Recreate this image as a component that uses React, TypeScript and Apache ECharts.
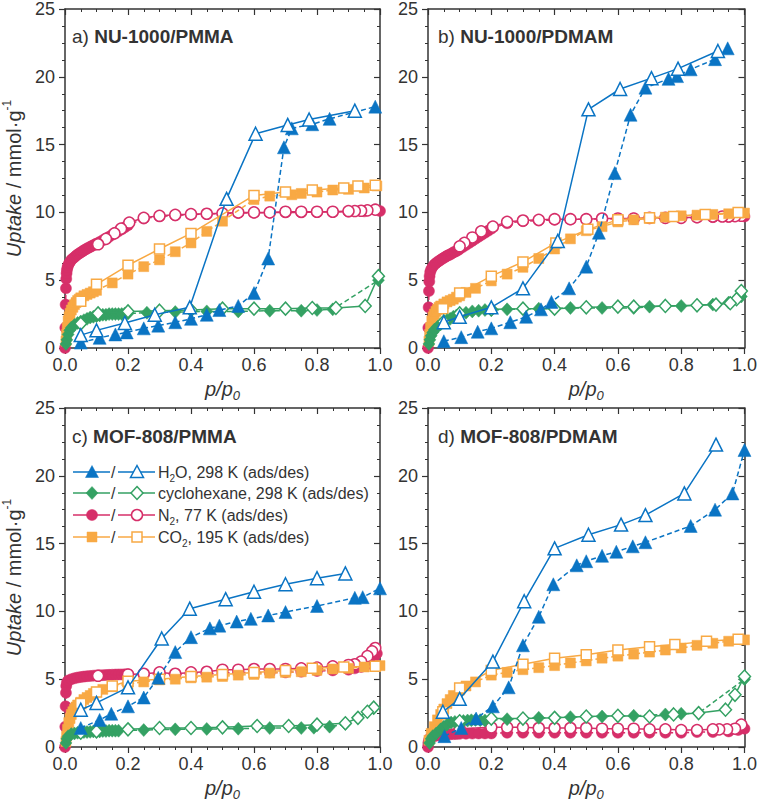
import React, { useEffect, useRef } from "react";
import * as echarts from "echarts";

// ---------- data (p/p0, uptake mmol/g) ----------
// Panel a) NU-1000/PMMA
const aH2OAds = [[0.05,0.4],[0.11,0.75],[0.16,1.0],[0.196,1.15],[0.25,1.45],[0.296,1.65],[0.35,1.9],[0.40,2.15],[0.45,2.45],[0.49,2.8],[0.55,3.1],[0.60,4.05],[0.645,6.6],[0.695,14.8],[0.72,16.2],[0.785,16.5],[0.84,16.9],[0.985,17.8]];
const aH2ODes = [[0.92,17.5],[0.775,16.85],[0.707,16.45],[0.605,15.8],[0.513,11.0],[0.396,3.0],[0.285,2.45],[0.19,1.85],[0.10,1.3],[0.05,0.95]];
const aCyAds = [[0.003,0.3],[0.006,0.6],[0.01,1.0],[0.015,1.3],[0.02,1.5],[0.03,1.7],[0.04,1.85],[0.05,1.95],[0.06,2.05],[0.07,2.15],[0.08,2.25],[0.09,2.3],[0.1,2.35],[0.11,2.4],[0.12,2.45],[0.13,2.45],[0.14,2.5],[0.15,2.5],[0.16,2.5],[0.17,2.5],[0.18,2.5],[0.19,2.55],[0.2,2.55],[0.26,2.6],[0.35,2.65],[0.45,2.7],[0.55,2.7],[0.65,2.75],[0.75,2.75],[0.8,2.8],[0.85,2.85],[0.995,5.0]];
const aCyDes = [[0.995,5.3],[0.953,3.1],[0.86,2.95],[0.785,2.95],[0.70,2.9],[0.60,2.9],[0.50,2.9],[0.40,2.8],[0.30,2.75],[0.20,2.7],[0.105,2.55],[0.05,1.8]];
const aN2Ads = [[0,0],[0.001,1.5],[0.002,3.2],[0.003,4.4],[0.004,5.1],[0.005,5.5],[0.006,5.75],[0.008,5.95],[0.01,6.1],[0.013,6.25],[0.016,6.35],[0.02,6.5],[0.025,6.6],[0.03,6.7],[0.035,6.8],[0.04,6.9],[0.045,6.97],[0.05,7.05],[0.055,7.12],[0.06,7.2],[0.065,7.27],[0.07,7.33],[0.075,7.4],[0.08,7.45],[0.085,7.52],[0.09,7.58],[0.095,7.63],[0.1,7.7],[0.11,7.82],[0.12,7.95],[0.13,8.07],[0.14,8.2],[0.15,8.35],[0.16,8.5],[0.17,8.62],[0.18,8.75],[0.19,8.9],[0.2,9.05],[0.25,9.55],[0.3,9.7],[0.35,9.78],[0.4,9.83],[0.45,9.88],[0.5,9.9],[0.55,9.95],[0.6,9.97],[0.65,9.98],[0.7,10.0],[0.75,10.0],[0.8,10.02],[0.85,10.03],[0.9,10.05],[0.95,10.08],[1.0,10.1]];
const aN2Des = [[0.985,10.2],[0.96,10.15],[0.94,10.12],[0.92,10.1],[0.90,10.1],[0.85,10.05],[0.80,10.05],[0.75,10.05],[0.70,10.05],[0.65,10.0],[0.60,10.0],[0.55,10.0],[0.50,9.93],[0.45,9.9],[0.40,9.87],[0.35,9.82],[0.30,9.75],[0.25,9.6],[0.204,9.25],[0.178,8.8],[0.157,8.45],[0.13,8.05],[0.105,7.65]];
const aCO2Ads = [[0.003,0.5],[0.005,1.0],[0.007,1.5],[0.01,2.0],[0.013,2.3],[0.016,2.55],[0.02,2.8],[0.025,3.0],[0.03,3.2],[0.035,3.35],[0.04,3.5],[0.045,3.6],[0.05,3.7],[0.06,3.85],[0.07,3.95],[0.08,4.05],[0.09,4.15],[0.1,4.25],[0.15,4.8],[0.2,5.45],[0.25,6.0],[0.3,6.5],[0.35,7.1],[0.4,7.75],[0.45,8.6],[0.5,9.35],[0.6,10.95],[0.65,11.2],[0.72,11.3],[0.75,11.4],[0.8,11.5],[0.85,11.65],[0.9,11.7],[0.95,11.8],[0.99,11.95]];
const aCO2Des = [[0.985,12.0],[0.93,11.95],[0.885,11.8],[0.785,11.65],[0.70,11.5],[0.60,11.25],[0.40,8.45],[0.30,7.3],[0.20,6.1],[0.10,4.7],[0.05,3.45]];

// Panel b) NU-1000/PDMAM
const bH2OAds = [[0.05,0.5],[0.105,0.8],[0.157,1.2],[0.2,1.45],[0.26,1.9],[0.31,2.3],[0.357,2.85],[0.39,3.4],[0.446,4.4],[0.50,6.0],[0.54,8.5],[0.59,12.9],[0.64,17.2],[0.687,19.2],[0.76,19.85],[0.787,20.05],[0.83,20.55],[0.907,21.3],[0.947,22.1]];
const bH2ODes = [[0.916,21.9],[0.79,20.6],[0.706,19.9],[0.607,19.1],[0.507,17.6],[0.41,7.9],[0.30,4.4],[0.2,3.0],[0.10,2.3],[0.05,1.9]];
const bCyAds = [[0.003,0.3],[0.006,0.6],[0.01,0.9],[0.015,1.15],[0.02,1.35],[0.03,1.55],[0.04,1.75],[0.05,1.9],[0.06,2.05],[0.07,2.15],[0.08,2.3],[0.09,2.4],[0.1,2.5],[0.12,2.6],[0.14,2.7],[0.16,2.75],[0.18,2.8],[0.2,2.8],[0.25,2.85],[0.35,2.9],[0.45,2.95],[0.55,2.95],[0.65,2.95],[0.7,3.05],[0.75,3.1],[0.8,3.1],[0.85,3.15],[0.9,3.2],[0.95,3.35],[0.99,3.8]];
const bCyDes = [[0.99,4.2],[0.975,3.6],[0.955,3.3],[0.91,3.2],[0.85,3.15],[0.75,3.1],[0.65,3.05],[0.60,3.05],[0.50,3.0],[0.40,2.9],[0.30,2.9],[0.20,2.85],[0.10,2.55],[0.05,1.95]];
const bN2Ads = [[0,0],[0.001,1.5],[0.002,3.0],[0.003,4.2],[0.004,4.9],[0.005,5.3],[0.007,5.6],[0.01,5.8],[0.015,6.0],[0.02,6.15],[0.025,6.25],[0.03,6.35],[0.035,6.42],[0.04,6.5],[0.045,6.58],[0.05,6.65],[0.055,6.72],[0.06,6.8],[0.065,6.85],[0.07,6.9],[0.075,6.97],[0.08,7.05],[0.085,7.1],[0.09,7.15],[0.095,7.22],[0.1,7.3],[0.11,7.45],[0.12,7.6],[0.13,7.75],[0.14,7.9],[0.15,8.05],[0.16,8.2],[0.17,8.35],[0.18,8.5],[0.19,8.65],[0.2,8.8],[0.25,9.2],[0.3,9.35],[0.35,9.4],[0.4,9.45],[0.45,9.48],[0.5,9.5],[0.55,9.52],[0.6,9.53],[0.65,9.55],[0.7,9.57],[0.75,9.58],[0.8,9.6],[0.85,9.62],[0.9,9.65],[0.95,9.68],[1.0,9.7]];
const bN2Des = [[0.99,9.75],[0.97,9.72],[0.95,9.7],[0.93,9.7],[0.90,9.7],[0.85,9.65],[0.80,9.6],[0.75,9.6],[0.70,9.6],[0.65,9.55],[0.60,9.55],[0.55,9.55],[0.50,9.5],[0.45,9.5],[0.40,9.5],[0.35,9.45],[0.30,9.4],[0.25,9.3],[0.205,8.95],[0.168,8.6],[0.14,8.15],[0.115,7.75],[0.10,7.5]];
const bCO2Ads = [[0.003,0.5],[0.005,1.0],[0.008,1.5],[0.012,2.0],[0.016,2.3],[0.02,2.5],[0.025,2.7],[0.03,2.85],[0.035,3.0],[0.04,3.1],[0.05,3.25],[0.06,3.4],[0.07,3.5],[0.08,3.6],[0.09,3.75],[0.1,3.85],[0.12,4.1],[0.15,4.4],[0.2,4.95],[0.25,5.45],[0.3,5.95],[0.35,6.6],[0.4,7.3],[0.45,8.05],[0.5,8.65],[0.55,8.95],[0.6,9.3],[0.65,9.45],[0.7,9.55],[0.75,9.65],[0.8,9.75],[0.85,9.8],[0.9,9.85],[0.95,9.9],[1.0,9.95]];
const bCO2Des = [[0.98,10.0],[0.876,9.85],[0.776,9.7],[0.70,9.6],[0.60,9.45],[0.505,8.75],[0.404,7.75],[0.30,6.35],[0.2,5.3],[0.1,4.05],[0.047,2.9]];

// Panel c) MOF-808/PMMA
const cH2OAds = [[0.05,1.4],[0.11,2.0],[0.147,2.45],[0.2,3.0],[0.25,3.65],[0.296,5.1],[0.35,7.0],[0.40,8.1],[0.46,8.75],[0.49,8.95],[0.545,9.25],[0.59,9.45],[0.645,9.7],[0.70,9.95],[0.80,10.4],[0.92,11.0],[0.945,11.05],[1.0,11.7]];
const cH2ODes = [[0.89,12.8],[0.80,12.45],[0.70,12.0],[0.60,11.45],[0.51,10.9],[0.396,10.2],[0.307,8.0],[0.2,4.4],[0.10,3.25],[0.05,2.75]];
const cCyAds = [[0.003,0.3],[0.006,0.6],[0.01,0.8],[0.02,0.95],[0.03,1.0],[0.04,1.05],[0.05,1.05],[0.06,1.1],[0.07,1.1],[0.08,1.12],[0.09,1.15],[0.1,1.15],[0.11,1.15],[0.12,1.18],[0.13,1.18],[0.14,1.2],[0.15,1.2],[0.16,1.2],[0.17,1.2],[0.25,1.25],[0.35,1.3],[0.45,1.33],[0.55,1.35],[0.65,1.4],[0.75,1.4],[0.79,1.42],[0.84,1.5],[0.89,1.7]];
const cCyDes = [[0.98,2.9],[0.96,2.6],[0.93,2.15],[0.89,1.75],[0.80,1.65],[0.71,1.55],[0.61,1.55],[0.50,1.45],[0.40,1.4],[0.30,1.4],[0.20,1.3],[0.10,1.15],[0.05,1.05]];
const cN2Ads = [[0,0],[0.001,1.5],[0.002,3.0],[0.003,4.0],[0.004,4.5],[0.006,4.75],[0.01,4.9],[0.02,5.0],[0.03,5.07],[0.04,5.12],[0.05,5.16],[0.06,5.19],[0.07,5.22],[0.08,5.24],[0.09,5.26],[0.1,5.28],[0.11,5.29],[0.12,5.3],[0.13,5.31],[0.14,5.32],[0.15,5.33],[0.16,5.34],[0.17,5.35],[0.18,5.35],[0.19,5.36],[0.2,5.36],[0.25,5.35],[0.3,5.4],[0.35,5.35],[0.4,5.4],[0.45,5.4],[0.5,5.45],[0.55,5.5],[0.6,5.5],[0.65,5.5],[0.7,5.5],[0.75,5.55],[0.8,5.6],[0.85,5.65],[0.9,5.7],[0.92,5.8],[0.94,5.9],[0.96,6.1],[0.98,6.5],[0.99,6.9]];
const cN2Des = [[0.985,7.3],[0.975,7.05],[0.96,6.7],[0.94,6.3],[0.92,6.1],[0.90,6.05],[0.85,5.95],[0.80,5.85],[0.75,5.8],[0.70,5.75],[0.65,5.75],[0.60,5.75],[0.55,5.7],[0.50,5.7],[0.45,5.55],[0.40,5.5],[0.35,5.4],[0.30,5.5],[0.25,5.4],[0.2,5.35],[0.105,5.25]];
const cCO2Ads = [[0.003,0.4],[0.005,0.8],[0.008,1.3],[0.012,1.8],[0.016,2.1],[0.02,2.4],[0.025,2.6],[0.03,2.8],[0.035,2.95],[0.04,3.1],[0.05,3.3],[0.06,3.5],[0.07,3.65],[0.08,3.8],[0.09,3.95],[0.1,4.05],[0.12,4.25],[0.15,4.45],[0.2,4.65],[0.25,4.8],[0.3,4.95],[0.35,5.0],[0.4,5.1],[0.45,5.15],[0.5,5.2],[0.55,5.3],[0.6,5.35],[0.65,5.45],[0.7,5.5],[0.75,5.55],[0.8,5.65],[0.85,5.75],[0.9,5.8],[0.95,5.9],[1.0,6.0]];
const cCO2Des = [[0.985,5.95],[0.885,5.9],[0.785,5.8],[0.70,5.65],[0.60,5.5],[0.50,5.35],[0.40,5.2],[0.30,5.0],[0.20,4.85],[0.15,4.5],[0.10,4.05],[0.05,3.2]];

// Panel d) MOF-808/PDMAM
const dH2OAds = [[0.052,0.8],[0.105,1.4],[0.152,2.1],[0.205,3.0],[0.255,4.4],[0.30,7.5],[0.35,9.6],[0.396,12.0],[0.47,13.4],[0.50,13.7],[0.55,14.1],[0.595,14.4],[0.647,14.8],[0.687,15.1],[0.83,16.3],[0.907,17.5],[0.962,18.7],[1.0,21.9]];
const dH2ODes = [[0.91,22.3],[0.81,18.7],[0.687,17.1],[0.61,16.4],[0.507,15.65],[0.40,14.65],[0.304,10.75],[0.205,6.3],[0.10,3.55],[0.047,2.6]];
const dCyAds = [[0.005,0.3],[0.01,0.6],[0.015,0.8],[0.026,1.0],[0.04,1.3],[0.05,1.5],[0.06,1.65],[0.073,1.8],[0.085,1.85],[0.1,1.9],[0.112,1.92],[0.125,1.95],[0.137,1.97],[0.15,2.0],[0.165,1.98],[0.18,1.95],[0.25,2.05],[0.35,2.15],[0.45,2.2],[0.55,2.25],[0.65,2.3],[0.75,2.4],[0.80,2.45],[0.855,2.5],[1.0,5.0]];
const dCyDes = [[1.0,5.2],[0.97,3.85],[0.94,2.75],[0.855,2.5],[0.776,2.4],[0.70,2.25],[0.60,2.3],[0.50,2.25],[0.40,2.15],[0.30,2.1],[0.20,2.1],[0.10,1.9]];
const dN2Ads = [[0,0],[0.001,0.3],[0.003,0.5],[0.006,0.65],[0.01,0.72],[0.02,0.8],[0.03,0.85],[0.04,0.88],[0.05,0.9],[0.06,0.92],[0.07,0.94],[0.08,0.95],[0.09,0.96],[0.1,0.97],[0.12,0.98],[0.14,0.99],[0.16,1.0],[0.18,1.0],[0.2,1.0],[0.25,1.05],[0.3,1.05],[0.35,1.05],[0.4,1.05],[0.45,1.05],[0.5,1.05],[0.55,1.05],[0.6,1.05],[0.65,1.05],[0.7,1.05],[0.75,1.05],[0.8,1.05],[0.85,1.1],[0.9,1.1],[0.95,1.15],[0.98,1.25],[1.0,1.35]];
const dN2Des = [[0.99,1.65],[0.97,1.35],[0.945,1.3],[0.92,1.3],[0.90,1.3],[0.85,1.25],[0.80,1.25],[0.75,1.3],[0.70,1.3],[0.65,1.35],[0.60,1.35],[0.55,1.35],[0.50,1.4],[0.45,1.4],[0.40,1.4],[0.35,1.4],[0.30,1.45],[0.25,1.45],[0.20,1.45],[0.10,1.35]];
const dCO2Ads = [[0.003,0.5],[0.01,1.0],[0.02,1.5],[0.03,2.0],[0.04,2.4],[0.05,2.8],[0.06,3.2],[0.07,3.5],[0.08,3.8],[0.1,4.2],[0.12,4.5],[0.15,4.8],[0.2,5.3],[0.25,5.5],[0.3,5.7],[0.35,5.85],[0.4,6.0],[0.45,6.2],[0.5,6.35],[0.55,6.55],[0.6,6.7],[0.65,6.85],[0.7,7.0],[0.75,7.15],[0.8,7.3],[0.85,7.5],[0.9,7.65],[0.95,7.8],[1.0,7.9]];
const dCO2Des = [[0.98,7.95],[0.88,7.8],[0.78,7.55],[0.70,7.4],[0.60,7.15],[0.50,6.8],[0.40,6.55],[0.30,6.1],[0.20,5.65],[0.10,4.35],[0.047,2.6]];

const panelLetters = ["a)", "b)", "c)", "d)"];
const panelNames = ["NU-1000/PMMA", "NU-1000/PDMAM", "MOF-808/PMMA", "MOF-808/PDMAM"];
const xTicks = [0, 0.2, 0.4, 0.6, 0.8, 1.0];
const yTicks = [0, 5, 10, 15, 20, 25];
const legendLabels = [
  "{n|H}{s|2}{n|O, 298 K (ads/des)}",
  "{n|cyclohexane, 298 K (ads/des)}",
  "{n|N}{s|2}{n|, 77 K (ads/des)}",
  "{n|CO}{s|2}{n|, 195 K (ads/des)}",
];

const panels = [
  { h2o: [aH2OAds, aH2ODes], cy: [aCyAds, aCyDes], n2: [aN2Ads, aN2Des], co2: [aCO2Ads, aCO2Des] },
  { h2o: [bH2OAds, bH2ODes], cy: [bCyAds, bCyDes], n2: [bN2Ads, bN2Des], co2: [bCO2Ads, bCO2Des] },
  { h2o: [cH2OAds, cH2ODes], cy: [cCyAds, cCyDes], n2: [cN2Ads, cN2Des], co2: [cCO2Ads, cCO2Des] },
  { h2o: [dH2OAds, dH2ODes], cy: [dCyAds, dCyDes], n2: [dN2Ads, dN2Des], co2: [dCO2Ads, dCO2Des] },
];

// ---------- styling ----------
const FONT = '"Liberation Sans", Arial, Helvetica, sans-serif';
const TXT = "#333333";
const BLUE = "#0a74c4";
const GREEN = "#34a163";
const PINK = "#d62f69";
const ORANGE = "#f8a944";

const gridRects = [
  { left: 62, top: 8, width: 318, height: 340 },
  { left: 428, top: 8, width: 318, height: 340 },
  { left: 62, top: 408, width: 318, height: 339 },
  { left: 428, top: 408, width: 318, height: 339 },
];

const kinds = [
  { key: "n2", color: PINK, symbol: "circle", size: 11 },
  { key: "co2", color: ORANGE, symbol: "rect", size: 10 },
  { key: "cy", color: GREEN, symbol: "diamond", size: [12, 13] },
  { key: "h2o", color: BLUE, symbol: "triangle", size: 13 },
];

function makeSeries(data: number[][], gi: number, k: any, filled: boolean, z: number) {
  return {
    type: "line",
    xAxisIndex: gi,
    yAxisIndex: gi,
    data,
    symbol: k.symbol,
    symbolSize: k.size,
    showSymbol: true,
    showAllSymbol: true,
    silent: true,
    z,
    lineStyle: { color: k.color, width: 1.5, type: filled ? [5, 3] : "solid" },
    itemStyle: {
      color: filled ? k.color : "#ffffff",
      borderColor: k.color,
      borderWidth: filled ? 0.5 : 1.5,
      opacity: 1,
    },
  };
}

const axisLineStyle = { color: TXT, width: 1.5 };

function buildOption() {
  const xAxis: any[] = [];
  const yAxis: any[] = [];
  const grid = gridRects.map((g) => ({ ...g, containLabel: false, show: false }));
  for (let i = 0; i < 4; i++) {
    xAxis.push({
      type: "value",
      gridIndex: i,
      min: xTicks[0],
      max: xTicks[xTicks.length - 1],
      interval: 0.2,
      position: "bottom",
      axisLine: { show: true, onZero: false, lineStyle: axisLineStyle },
      axisTick: { show: true, inside: false, length: 6, lineStyle: { color: TXT, width: 1.2 } },
      minorTick: { show: true, splitNumber: 4, length: 3, lineStyle: { color: TXT, width: 1 } },
      splitLine: { show: false },
      axisLabel: {
        fontSize: 18,
        color: TXT,
        fontFamily: FONT,
        margin: 8,
        formatter: (v: number) => v.toFixed(1),
      },
      name: "{i|p/p}{s|0}",
      nameLocation: "middle",
      nameGap: 28,
      nameTextStyle: {
        color: TXT,
        fontFamily: FONT,
        rich: {
          i: { fontSize: 20, fontStyle: "italic", fontFamily: FONT, color: TXT, lineHeight: 26 },
          s: { fontSize: 13, fontStyle: "italic", fontFamily: FONT, color: TXT, verticalAlign: "bottom", lineHeight: 26 },
        },
      },
    });
  }
  for (let i = 0; i < 4; i++) {
    xAxis.push({
      type: "value",
      gridIndex: i,
      min: xTicks[0],
      max: xTicks[xTicks.length - 1],
      interval: 0.2,
      position: "top",
      axisLine: { show: true, onZero: false, lineStyle: axisLineStyle },
      axisTick: { show: true, inside: true, length: 6, lineStyle: { color: TXT, width: 1.2 } },
      minorTick: { show: true, splitNumber: 4, length: 3, lineStyle: { color: TXT, width: 1 } },
      splitLine: { show: false },
      axisLabel: { show: false },
    });
  }
  for (let i = 0; i < 4; i++) {
    const left = i % 2 === 0;
    yAxis.push({
      type: "value",
      gridIndex: i,
      min: yTicks[0],
      max: yTicks[yTicks.length - 1],
      interval: 5,
      position: "left",
      axisLine: { show: true, onZero: false, lineStyle: axisLineStyle },
      axisTick: { show: true, inside: false, length: 6, lineStyle: { color: TXT, width: 1.2 } },
      minorTick: { show: true, splitNumber: 4, length: 3, lineStyle: { color: TXT, width: 1 } },
      splitLine: { show: false },
      axisLabel: { fontSize: 18, color: TXT, fontFamily: FONT, margin: 10 },
      name: left ? "{i|Uptake}{n| / mmol·g}{s|-1}" : "",
      nameLocation: "middle",
      nameGap: 38,
      nameRotate: 90,
      nameTextStyle: {
        color: TXT,
        fontFamily: FONT,
        rich: {
          i: { fontSize: 20, fontStyle: "italic", fontFamily: FONT, color: TXT, lineHeight: 26 },
          n: { fontSize: 20, fontFamily: FONT, color: TXT, lineHeight: 26 },
          s: { fontSize: 12, fontFamily: FONT, color: TXT, verticalAlign: "top", lineHeight: 26 },
        },
      },
    });
  }
  for (let i = 0; i < 4; i++) {
    yAxis.push({
      type: "value",
      gridIndex: i,
      min: yTicks[0],
      max: yTicks[yTicks.length - 1],
      interval: 5,
      position: "right",
      axisLine: { show: true, onZero: false, lineStyle: axisLineStyle },
      axisTick: { show: true, inside: true, length: 6, lineStyle: { color: TXT, width: 1.2 } },
      minorTick: { show: true, splitNumber: 4, length: 3, lineStyle: { color: TXT, width: 1 } },
      splitLine: { show: false },
      axisLabel: { show: false },
    });
  }

  const series: any[] = [];
  panels.forEach((p: any, gi) => {
    kinds.forEach((k, ki) => {
      series.push(makeSeries(p[k.key][0], gi, k, true, 2 + ki * 2));
      series.push(makeSeries(p[k.key][1], gi, k, false, 3 + ki * 2));
    });
  });

  const graphic: any[] = [];
  // panel titles
  gridRects.forEach((g, i) => {
    graphic.push({
      type: "text",
      left: g.left + 10,
      top: g.top + 19,
      silent: true,
      style: {
        text: `{n|${panelLetters[i]} }{b|${panelNames[i]}}`,
        rich: {
          n: { fontSize: 19, fontFamily: FONT, fill: TXT, color: TXT },
          b: { fontSize: 19, fontFamily: FONT, fontWeight: "bold", fill: TXT, color: TXT },
        },
      },
    });
  });

  // legend (inside panel c)
  const legendKinds = [kinds[3], kinds[2], kinds[0], kinds[1]];
  const rowY = [472, 493, 515, 537];
  const symShape = (k: any, cx: number, cy: number, filled: boolean) => {
    const fill = filled ? k.color : "#ffffff";
    const st = { fill, stroke: k.color, lineWidth: filled ? 0.5 : 1.5 };
    if (k.symbol === "triangle")
      return { type: "polygon", shape: { points: [[cx, cy - 6.5], [cx + 6.5, cy + 5.5], [cx - 6.5, cy + 5.5]] }, style: st, silent: true, z: 10 };
    if (k.symbol === "diamond")
      return { type: "polygon", shape: { points: [[cx, cy - 6.5], [cx + 6, cy], [cx, cy + 6.5], [cx - 6, cy]] }, style: st, silent: true, z: 10 };
    if (k.symbol === "circle")
      return { type: "circle", shape: { cx, cy, r: 5.5 }, style: st, silent: true, z: 10 };
    return { type: "rect", shape: { x: cx - 5, y: cy - 5, width: 10, height: 10 }, style: st, silent: true, z: 10 };
  };
  legendKinds.forEach((k, r) => {
    const y = rowY[r];
    graphic.push({ type: "line", shape: { x1: 73, y1: y, x2: 110, y2: y }, style: { stroke: k.color, lineWidth: 1.5 }, silent: true, z: 9 });
    graphic.push(symShape(k, 92, y, true));
    graphic.push({ type: "text", x: 111, y: y, silent: true, style: { text: "/", fontSize: 16, fontFamily: FONT, fill: TXT, verticalAlign: "middle" } });
    graphic.push({ type: "line", shape: { x1: 118, y1: y, x2: 155, y2: y }, style: { stroke: k.color, lineWidth: 1.5 }, silent: true, z: 9 });
    graphic.push(symShape(k, 137, y, false));
    graphic.push({
      type: "text",
      x: 158,
      y: y,
      silent: true,
      style: {
        text: legendLabels[r],
        verticalAlign: "middle",
        rich: {
          n: { fontSize: 16, fontFamily: FONT, fill: TXT, color: TXT, lineHeight: 22 },
          s: { fontSize: 10, fontFamily: FONT, fill: TXT, color: TXT, verticalAlign: "bottom", lineHeight: 22 },
        },
      },
    });
  });

  return {
    animation: false,
    backgroundColor: "#ffffff",
    textStyle: { fontFamily: FONT },
    grid,
    xAxis,
    yAxis,
    series,
    graphic,
  };
}

export default function App() {
  const ref = useRef<HTMLDivElement>(null);
  useEffect(() => {
    if (!ref.current) return;
    const chart = echarts.init(ref.current, undefined, { renderer: "svg" });
    chart.setOption(buildOption() as any);
    return () => chart.dispose();
  }, []);
  return (
    <div
      ref={ref}
      style={{ position: "fixed", left: 0, top: 0, width: 760, height: 802, background: "#fff" }}
    />
  );
}
